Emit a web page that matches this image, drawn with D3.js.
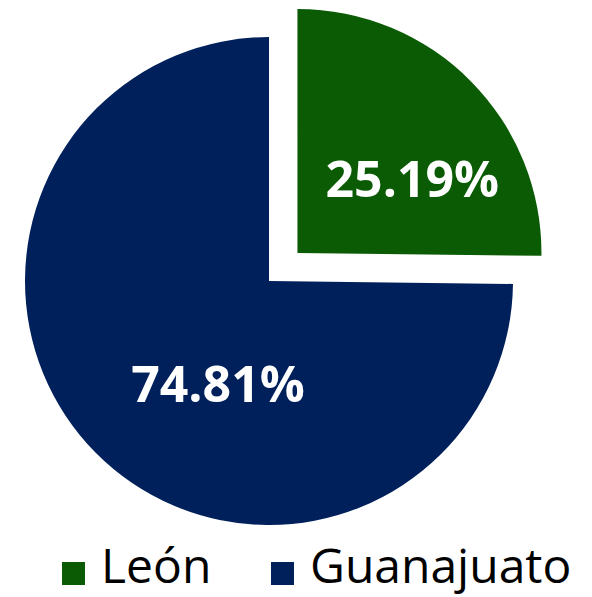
<!DOCTYPE html>
<html>
<head>
<meta charset="utf-8">
<script src="https://cdn.jsdelivr.net/npm/d3@7"></script>
<style>
  html, body { margin: 0; padding: 0; background: #ffffff; }
  svg { display: block; }
</style>
</head>
<body>
<svg id="chart" width="592" height="597"></svg>
<script>
// Share of the total by municipality
const categories = ["León", "Guanajuato"];
const shares = [25.19, 74.81];
const colors = ["#0a5b04", "#00205b"];

const svg = d3.select("#chart");
const cx = 269, cy = 281, radius = 244, explode = 40;

const pie = d3.pie().sort(null).startAngle(0).endAngle(2 * Math.PI);
const arcs = pie(shares);
const arc = d3.arc().innerRadius(0).outerRadius(radius);

// label placement inside each slice (polar: radius, angle in radians from 12 o'clock)
const labelPolar = [[137, 57 * Math.PI / 180], [114, 206.6 * Math.PI / 180]];

const g = svg.append("g").attr("transform", `translate(${cx},${cy})`);

const slices = g.selectAll("g.slice")
  .data(arcs)
  .join("g")
  .attr("class", "slice")
  .attr("transform", (d, i) => {
    if (i !== 0) return null;
    const mid = (d.startAngle + d.endAngle) / 2;
    return `translate(${explode * Math.sin(mid)},${-explode * Math.cos(mid)})`;
  });

slices.append("path")
  .attr("d", arc)
  .attr("fill", (d, i) => colors[i]);

slices.append("text")
  .attr("x", (d, i) => labelPolar[i][0] * Math.sin(labelPolar[i][1]))
  .attr("y", (d, i) => -labelPolar[i][0] * Math.cos(labelPolar[i][1]))
  .attr("text-anchor", "middle")
  .attr("dominant-baseline", "central")
  .attr("fill", "#ffffff")
  .style("font-family", "'Open Sans', sans-serif")
  .style("font-weight", 700)
  .style("font-size", "50px")
  .text(d => d.data.toFixed(2) + "%");

// legend
const legend = svg.append("g").attr("transform", "translate(0,583)");
const legendX = [62, 271];
const item = legend.selectAll("g.item")
  .data(categories)
  .join("g")
  .attr("class", "item")
  .attr("transform", (d, i) => `translate(${legendX[i]},0)`);

item.append("rect")
  .attr("x", 0).attr("y", -21)
  .attr("width", 23).attr("height", 23)
  .attr("fill", (d, i) => colors[i]);

item.append("text")
  .attr("x", 39).attr("y", 0)
  .attr("fill", "#000000")
  .style("font-family", "'Open Sans', sans-serif")
  .style("font-size", "48px")
  .text(d => d);
</script>
</body>
</html>
